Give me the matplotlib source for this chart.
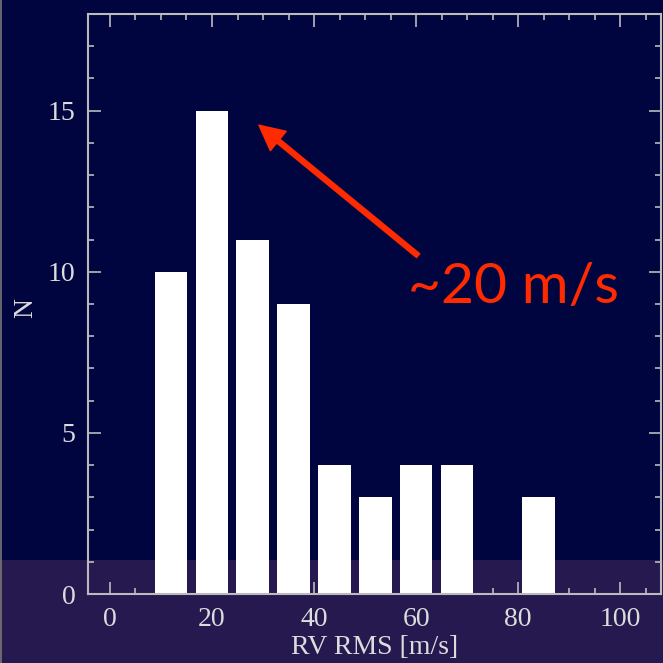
import numpy as np
import matplotlib.pyplot as plt
from matplotlib.patches import Rectangle
from matplotlib.ticker import MultipleLocator

# histogram of RV RMS (bin centres in m/s, counts)
bin_centres = [12, 20, 28, 36, 44, 52, 60, 68, 76, 84]
counts = [10, 15, 11, 9, 4, 3, 4, 4, 0, 3]
bin_width = 8

x_ticks = [0, 20, 40, 60, 80, 100]
y_ticks = [0, 5, 10, 15]

navy = '#000540'
purple = '#26194f'
grey = '#dcdcdc'

fig = plt.figure(figsize=(6.63, 6.63), dpi=100, facecolor=navy)
# purple strip at the bottom of the slide
fig.patches.append(Rectangle((0, 0), 1, 1 - 560 / 663, transform=fig.transFigure,
                             facecolor=purple, edgecolor='none', zorder=-5))
fig.add_artist(plt.Line2D([0.001, 0.001], [0, 1], color='#777777', lw=1.2))

ax = fig.add_axes([88 / 663, 1 - 594 / 663, (661 - 88) / 663, (594 - 14) / 663])
ax.set_zorder(2)
ax.set_facecolor('none')
ax.bar(bin_centres, counts, width=bin_width * 0.8, color='white', edgecolor='none', zorder=3)

ax.set_xlim(-4.3, 108)
ax.set_ylim(0, 18)
ax.set_xticks(x_ticks)
ax.set_yticks(y_ticks)
ax.xaxis.set_minor_locator(MultipleLocator(5))
ax.yaxis.set_minor_locator(MultipleLocator(1))
ax.tick_params(which='both', direction='in', top=True, right=True, color='#bbbbbb',
               labelcolor=grey, labelsize=20, width=1.2, zorder=4)
ax.tick_params(which='major', length=9, pad=9)
ax.tick_params(which='minor', length=4.5)
for lab in ax.get_xticklabels() + ax.get_yticklabels():
    lab.set_family('Liberation Serif')
for s in ax.spines.values():
    s.set_color('#bbbbbb')
    s.set_linewidth(1.5)
    s.set_zorder(5)

# axis titles placed where the reference has them
fig.text(375 / 663, 1 - 647 / 663, 'RV RMS [m/s]', family='Liberation Serif',
         fontsize=20, color=grey, ha='center', va='center')
fig.text(26 / 663, 1 - 308 / 663, 'N', family='Liberation Serif', fontsize=20,
         color=grey, rotation=90, ha='center', va='center')

# red arrow and label
red = '#ff2a00'
ax.annotate('', xy=(29.2, 14.55), xytext=(60.4, 10.5),
            arrowprops=dict(width=3.6, headwidth=18, headlength=18, color=red, shrink=0))
ax.text(79.0, 9.5, '~20 m/s', color=red, fontsize=41, family='Lato',
        ha='center', va='center')

fig.savefig('out.png', dpi=100, facecolor=navy)
